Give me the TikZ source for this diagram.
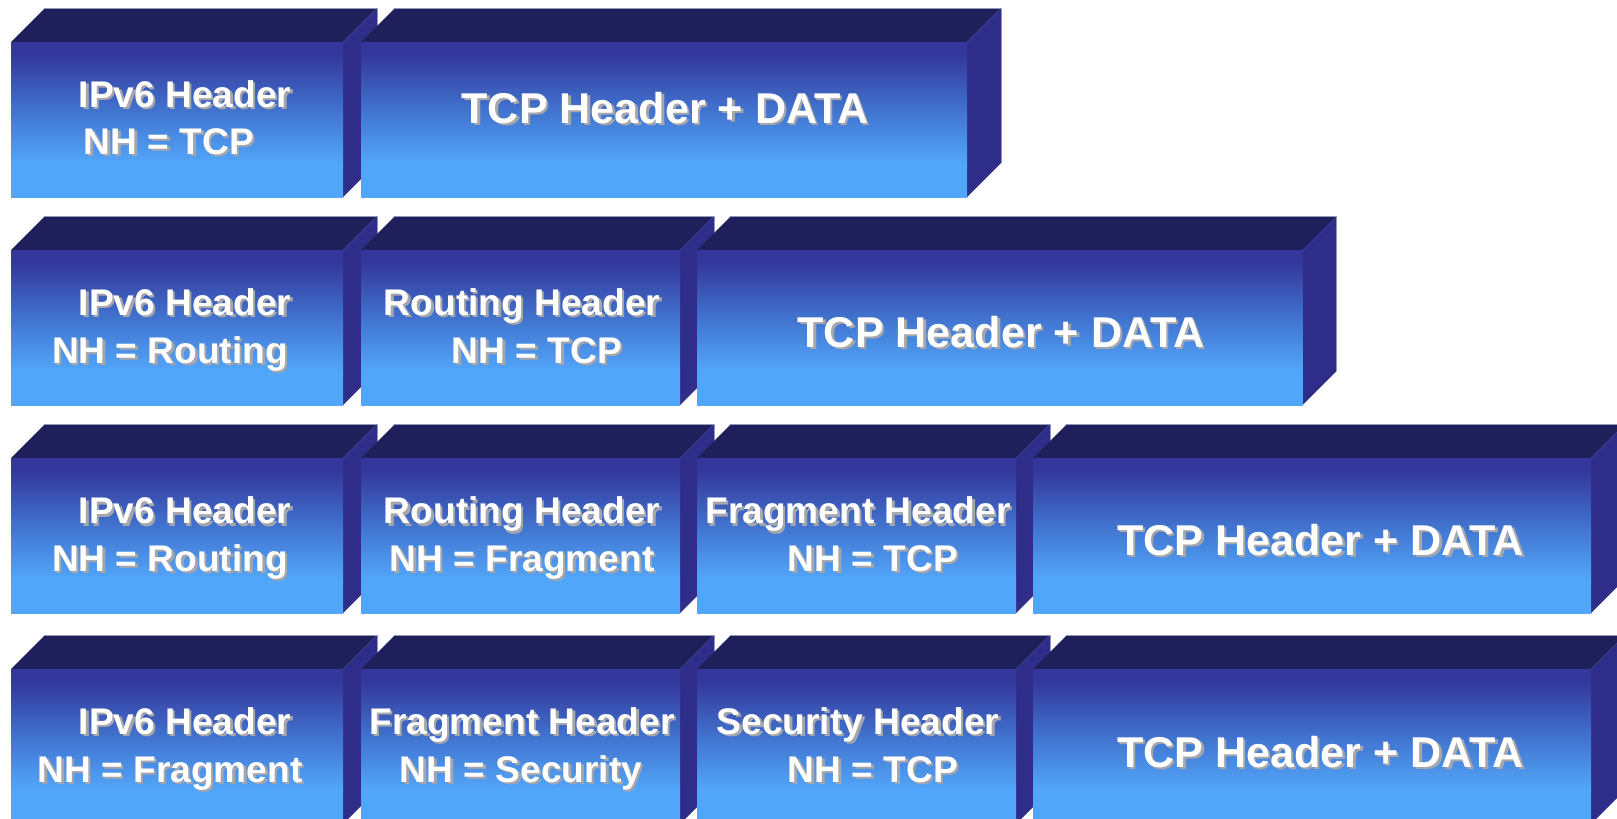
\documentclass[tikz,border=0pt]{standalone}
\usepackage{fontspec}
\setmainfont{Liberation Sans}
\definecolor{topc}{RGB}{31,31,92}
\definecolor{sidec}{RGB}{46,46,138}
\definecolor{fdark}{RGB}{52,55,156}
\definecolor{fmid}{RGB}{64,112,204}
\definecolor{flight}{RGB}{82,166,249}
\definecolor{edgec}{RGB}{150,150,185}
\definecolor{shadc}{RGB}{165,165,172}
\pgfdeclareverticalshading{frontsh}{100bp}{color(0bp)=(flight); color(25bp)=(flight); color(36bp)=(flight); color(54bp)=(fmid); color(71bp)=(fdark); color(75bp)=(fdark); color(100bp)=(fdark)}
\newcommand\pktbox[4]{% #1 name, #2 x1, #3 x2, #4 ytop
  \fill[topc] (#2,#4) -- (#2+34,#4-34) -- (#3+34,#4-34) -- (#3,#4) -- cycle;
  \fill[sidec] (#3,#4) -- (#3+34,#4-34) -- (#3+34,#4+121) -- (#3,#4+155) -- cycle;
  \shade[shading=frontsh] (#2,#4) rectangle (#3,#4+155);
  \draw[edgeline] (#2+34,#4-34) -- (#3+34,#4-34) -- (#3+34,#4+121);
  \coordinate (#1) at ({(#2+#3)/2},#4+77.5);
}
\newcommand\lbl[5]{% name, x, baseline y, style, text
  \node[#4, text=shadc] (#1s) at (#2+2.5,#3+2.5) {#5};
  \node[#4] (#1) at (#2,#3) {#5};
}
\begin{document}
\begin{tikzpicture}[x=0.5pt,y=-0.5pt,
  edgeline/.style={draw=edgec, line width=0.4pt},
  hdr/.style={anchor=base, inner sep=0pt, text=white, font=\bfseries\fontsize{18.55}{20}\selectfont},
  big/.style={anchor=base, inner sep=0pt, text=white, font=\bfseries\fontsize{21.55}{24}\selectfont}]
\useasboundingbox (0,0) rectangle (1617,819);
\clip (0,0) rectangle (1617,819);
\fill[white] (0,0) rectangle (1617,819);
% Row 1
\pktbox{r1a}{11}{343}{42}
\pktbox{r1b}{361}{967}{42}
\lbl{t1a1}{185}{107}{hdr}{IPv6 Header}
\lbl{t1a2}{169}{154}{hdr}{NH = TCP}
\lbl{t1b}{665}{123}{big}{TCP Header + DATA}
% Row 2
\pktbox{r2a}{11}{343}{250}
\pktbox{r2b}{361}{680}{250}
\pktbox{r2c}{697}{1302.5}{250}
\lbl{t2a1}{185}{315}{hdr}{IPv6 Header}
\lbl{t2a2}{170}{363}{hdr}{NH = Routing}
\lbl{t2b1}{522}{315}{hdr}{Routing Header}
\lbl{t2b2}{537}{363}{hdr}{NH = TCP}
\lbl{t2c}{1001}{347}{big}{TCP Header + DATA}
% Row 3
\pktbox{r3a}{11}{343}{458}
\pktbox{r3b}{361}{680}{458}
\pktbox{r3c}{697}{1016}{458}
\pktbox{r3d}{1033}{1591}{458}
\lbl{t3a1}{185}{523.5}{hdr}{IPv6 Header}
\lbl{t3a2}{170}{571}{hdr}{NH = Routing}
\lbl{t3b1}{522}{523.5}{hdr}{Routing Header}
\lbl{t3b2}{522}{571}{hdr}{NH = Fragment}
\lbl{t3c1}{858}{523.5}{hdr}{Fragment Header}
\lbl{t3c2}{873}{571}{hdr}{NH = TCP}
\lbl{t3d}{1320.5}{555}{big}{TCP Header + DATA}
% Row 4
\pktbox{r4a}{11}{343}{669}
\pktbox{r4b}{361}{680}{669}
\pktbox{r4c}{697}{1016}{669}
\pktbox{r4d}{1033}{1591}{669}
\lbl{t4a1}{185}{734}{hdr}{IPv6 Header}
\lbl{t4a2}{170}{782}{hdr}{NH = Fragment}
\lbl{t4b1}{522}{734}{hdr}{Fragment Header}
\lbl{t4b2}{521}{782}{hdr}{NH = Security}
\lbl{t4c1}{858}{734}{hdr}{Security Header}
\lbl{t4c2}{873}{782}{hdr}{NH = TCP}
\lbl{t4d}{1320.5}{767}{big}{TCP Header + DATA}
\end{tikzpicture}
\end{document}
